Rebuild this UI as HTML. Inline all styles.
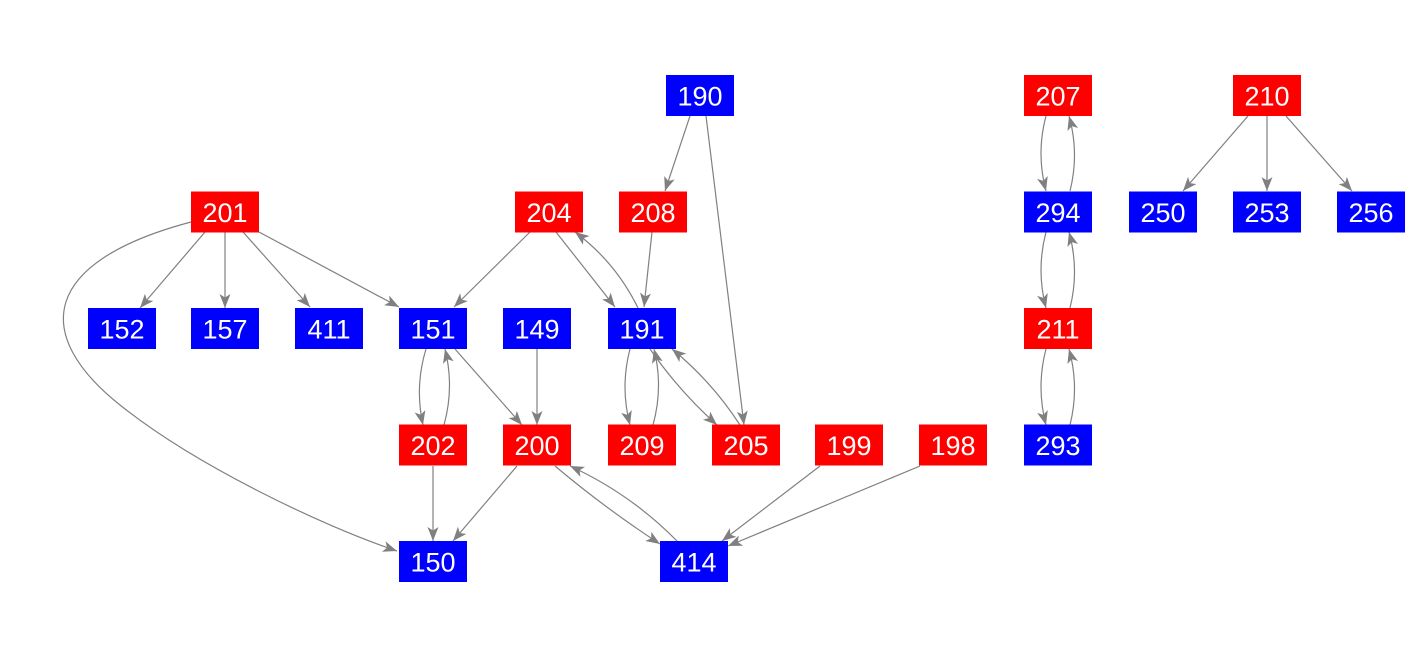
<!DOCTYPE html>
<html><head><meta charset="utf-8"><style>
html,body{margin:0;padding:0;background:#fff;}
svg{display:block;}
text{font-family:"Liberation Sans",Arial,sans-serif;font-size:27px;fill:#fff;}
</style></head><body>
<svg id="s" width="1413" height="656" xmlns="http://www.w3.org/2000/svg">
<defs><marker id="a" markerUnits="userSpaceOnUse" markerWidth="16" markerHeight="14" refX="14" refY="5.5" orient="auto"><path d="M0,0 L14,5.5 L0,11 L3.5,5.5 z" fill="#808080"/></marker></defs>
<g id="e" fill="none" stroke="#808080" stroke-width="1.2">
<path d="M191,222 C40,262 32,335 120,405 C195,465 320,525 397,551" marker-end="url(#a)"/>
</g>
<g id="n"></g>
</svg>
<script>
var R=[95.5,212,328.5,445,561.5];
var N=[["190",700,0,"b"],["207",1058,0,"r"],["210",1267,0,"r"],
["201",225,1,"r"],["204",549,1,"r"],["208",653,1,"r"],["294",1058,1,"b"],["250",1163,1,"b"],["253",1267,1,"b"],["256",1371,1,"b"],
["152",122,2,"b"],["157",225,2,"b"],["411",329,2,"b"],["151",433,2,"b"],["149",537,2,"b"],["191",642,2,"b"],["211",1058,2,"r"],
["202",433,3,"r"],["200",537,3,"r"],["209",642,3,"r"],["205",746,3,"r"],["199",849,3,"r"],["198",953,3,"r"],["293",1058,3,"b"],
["150",433,4,"b"],["414",694,4,"b"]];
var E=[[205,232,140,308,0],[225,232,225,308,0],[243,232,310,307,0],[259,232,399,307,0],
[530,232,454,307,0],[556,232,615,307,0],[638,308,575,232,6],[652,232,644,307,0],
[690,116,665,191,0],[706,116,744,425,0],
[426,349,423,425,5],[444,425,445,349,5],[455,349,522,425,0],[537,349,537,425,0],
[630,349,630,425,5],[653,425,654,349,5],[650,349,717,425,3],[740,425,672,349,4],
[433,466,433,541,0],[517,466,453,541,0],[555,466,660,544,2],[677,541,570,466,6],
[820,466,722,541,0],[920,466,728,546,0],
[1046,116,1046,191,5],[1070,191,1069,116,5],[1046,232,1046,308,5],[1070,308,1069,232,5],
[1046,349,1046,425,5],[1070,425,1069,349,5],
[1248,116,1183,191,0],[1267,116,1267,191,0],[1286,116,1352,191,0]];
var g=document.getElementById("e"),h="";
E.forEach(function(a){var x1=a[0],y1=a[1],x2=a[2],y2=a[3],b=a[4];var dx=x2-x1,dy=y2-y1,l=Math.hypot(dx,dy);
var cx=(x1+x2)/2+(-dy/l)*b*2,cy=(y1+y2)/2+(dx/l)*b*2;
h+='<path d="M'+x1+','+y1+' Q'+cx+','+cy+' '+x2+','+y2+'" marker-end="url(#a)"/>';});
g.innerHTML+=h;
var m="";N.forEach(function(n){var y=R[n[2]];m+='<rect x="'+(n[1]-34)+'" y="'+(y-20.5)+'" width="68" height="41" fill="'+(n[3]=="r"?"#ff0000":"#0000ff")+'"/><text x="'+n[1]+'" y="'+(y+10)+'" text-anchor="middle">'+n[0]+'</text>';});
document.getElementById("n").innerHTML=m;
</script>
</body></html>
